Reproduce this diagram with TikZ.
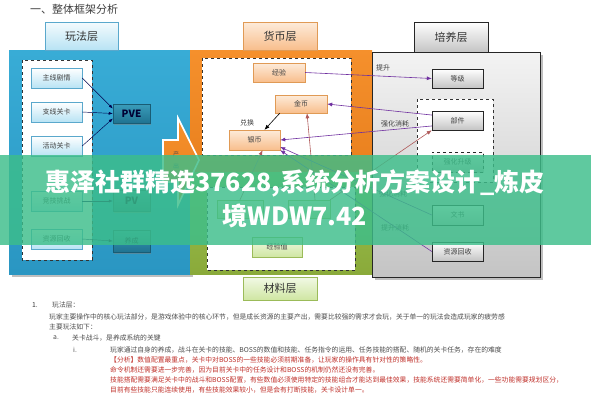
\documentclass[tikz,border=0pt]{standalone}
\usepackage{fontspec}
\setmainfont{Noto Sans CJK SC}
\usetikzlibrary{shadows,arrows.meta}
\newcommand\fsz[1]{\fontsize{#1}{#1}\selectfont}
\definecolor{blueT}{HTML}{38ACD6}
\definecolor{blueB}{HTML}{2A96C2}
\definecolor{orT}{HTML}{F5902C}
\definecolor{orB}{HTML}{E9801E}
\definecolor{grT}{HTML}{9CC04E}
\definecolor{grB}{HTML}{8AAA3A}
\definecolor{gyT}{HTML}{F3F3F3}
\definecolor{gyB}{HTML}{C4C4C4}
\definecolor{bbord}{HTML}{5AA8CC}
\definecolor{bfill}{HTML}{B8E3F4}
\definecolor{pveT}{HTML}{3A9CBA}
\definecolor{pveB}{HTML}{1F7391}
\definecolor{obord}{HTML}{E09A55}
\definecolor{ofillT}{HTML}{FDEBDA}
\definecolor{ofillB}{HTML}{F8BE8C}
\definecolor{gbord}{HTML}{9BBB59}
\definecolor{gfillT}{HTML}{F2F9E6}
\definecolor{gfillB}{HTML}{CFE6A2}
\definecolor{purp}{HTML}{7030A0}
\definecolor{redb}{HTML}{B05A5A}
\definecolor{wm}{HTML}{3CBE8A}
\definecolor{txtred}{HTML}{C0302A}
\begin{document}
\begin{tikzpicture}[x=1pt,y=-1pt,
  tabbox/.style={rectangle, inner sep=0, font=\fsz{11}, text=black!80},
  tabblue/.style={tabbox, draw=bbord, top color=white!85!bfill, bottom color=bfill},
  taborange/.style={tabbox, draw=obord, top color=ofillT, bottom color=ofillB},
  tabgray/.style={tabbox, draw=black!85, top color=white, bottom color=gyB},
  tabgreen/.style={tabbox, draw=gbord, top color=gfillT, bottom color=gfillB},
  bbox/.style={rectangle, inner sep=0, minimum width=51, minimum height=20, font=\fsz{7}, text=black!75,
     draw=bbord, top color=white, bottom color=bfill, drop shadow={shadow xshift=1.2pt, shadow yshift=-1.2pt, opacity=.35}},
  pbox/.style={rectangle, inner sep=0, minimum width=37, minimum height=19, font=\fsz{10}\bfseries, text=black!80!blue,
     draw=pveB!80!black, top color=pveT, bottom color=pveB, drop shadow={shadow xshift=1.2pt, shadow yshift=-1.5pt, opacity=.5}},
  obox/.style={rectangle, inner sep=0, minimum width=51, minimum height=19, font=\fsz{7}, text=black!75,
     draw=obord, top color=ofillT, bottom color=ofillB, drop shadow={shadow xshift=1.2pt, shadow yshift=-1.2pt, opacity=.35}},
  gbox/.style={rectangle, inner sep=0, minimum width=51, minimum height=19, font=\fsz{7}, text=black!75,
     draw=black!85, top color=white, bottom color=gyB, drop shadow={shadow xshift=1.2pt, shadow yshift=-1.2pt, opacity=.35}},
  grbox/.style={rectangle, inner sep=0, minimum width=46, minimum height=18, font=\fsz{7}, text=black!75,
     draw=gbord, top color=gfillT, bottom color=gfillB, drop shadow={shadow xshift=1.2pt, shadow yshift=-1.2pt, opacity=.35}},
  dashbox/.style={draw=black!80, dashed, line width=0.5pt, fill=white},
  lbl/.style={font=\fsz{7}, text=black!75, inner sep=0},
  conn/.style={draw=black!70!blue, line width=0.45pt, -{Latex[length=4pt,width=3pt]}},
  pconn/.style={draw=purp, line width=0.6pt, -{Latex[length=5pt,width=4pt]}},
  rconn/.style={draw=redb, line width=0.6pt, -{Latex[length=5pt,width=4pt]}},
  kconn/.style={draw=black, line width=0.6pt, -{Latex[length=5pt,width=4pt]}},
  body/.style={anchor=west, inner sep=0, font=\fsz{6.8}, text=black!70},
  bodyred/.style={body, text=txtred}
]
\useasboundingbox (0,0) rectangle (591,400);
\fill[white] (0,0) rectangle (591,400);

% title
\node[anchor=west, inner sep=0, font=\fsz{11}, text=black!75] (title) at (30,9) {一、整体框架分析};

% panels shadows
\fill[black!25] (12,53) rectangle (193,277);
\fill[black!25] (375,55) rectangle (543,280);
% blue panel
\shade[top color=blueT, bottom color=blueB] (9,50) rectangle (190,274);
% orange panel
\shade[top color=orT, bottom color=orB] (190,50) rectangle (372,172);
% green panel
\shade[top color=grT, bottom color=grB] (190,172) rectangle (372,274);
% gray panel
\shade[top color=gyT, bottom color=gyB, draw=black!85, line width=0.6pt] (372,52) rectangle (540,277);

% tabs
\node[tabblue, minimum width=73, minimum height=28] (tplay) at (81.5,36) {玩法层};
\node[taborange, minimum width=74, minimum height=28] (tcoin) at (280,36) {货币层};
\node[tabgray, minimum width=74, minimum height=30] (tgrow) at (451,37) {培养层};
\node[tabgreen, minimum width=74, minimum height=23] (tmat) at (280,288.5) {材料层};

% inner dashed areas
\draw[dashbox] (22,60) rectangle (92,260);
\draw[dashbox] (202,58) rectangle (351,155);
\draw[dashbox] (207,187) rectangle (355,270);
\draw[dashbox] (417,99) rectangle (493,182);

% block arrow
\shade[top color=orT, bottom color=orB, draw=white, line width=1.6pt, line join=miter]
  (163,140) -- (178,140) -- (178,118) -- (199,160) -- (178,205) -- (178,182) -- (163,182) -- cycle;
\node[inner sep=0, font=\fsz{6}, text=black!70, align=center] (chan) at (176,160) {产\\[6pt]出};

% blue boxes
\node[bbox] (b1) at (56.5,78) {主线剧情};
\node[bbox] (b2) at (56.5,112) {支线关卡};
\node[bbox] (b3) at (56.5,146) {活动关卡};
\node[bbox] (b4) at (56.5,201) {竞技挑战};
\node[bbox] (b5) at (56.5,239) {资源回收};
\node[pbox] (pve) at (131.5,113.5) {PVE};
\node[pbox, minimum height=21] (pvp) at (131.5,201) {PV};
\node[pbox, minimum height=22, font=\fsz{7}] (yc) at (131.5,241) {养成};

\draw[conn] (b1.east) -- (pve.165);
\draw[conn] (b2.east) -- (pve.west);
\draw[conn] (b3.east) -- (pve.195);
\draw[conn] (b4.east) -- (pvp.west);
\draw[conn] (b5.east) -- (yc.west);

% orange boxes
\node[obox, minimum width=52] (jy) at (279,72.5) {经验};
\node[obox, minimum width=52, minimum height=18] (jb) at (301,104) {金币};
\node[obox, minimum height=20] (yb) at (254.5,140) {银币};
\node[lbl] (dh) at (247,123) {兑换};

% gray boxes
\node[gbox] (dj) at (457.5,78.5) {等级};
\node[gbox] (bj) at (457.5,120.5) {部件};
\node[gbox, dashed, minimum height=20] (qh) at (457.5,162) {强化升级};
\node[gbox, minimum height=20] (ws) at (457.5,215) {文书};
\node[gbox] (zy) at (457.5,251.5) {资源回收};

% green boxes
\node[grbox] (ga) at (240,209) {};
\node[grbox, minimum width=42] (gb) at (309,209) {};
\node[grbox, minimum width=50, minimum height=20] (gc) at (277,247) {经验值};

% connectors
\draw[kconn] ([xshift=5]jb.south west) -- ([xshift=10]yb.north);
\draw[pconn] (jy.east) -- (dj.west);
\node[lbl] (lts) at (383,68) {提升};
\draw[pconn] (bj.168) -- (jb.east);
\draw[pconn] (bj.192) -- (yb.east);
\node[lbl] (lqh1) at (395,124) {强化消耗};
\draw[pconn] (ws.west) -- ([yshift=-7]yb.east);
\draw[pconn] (zy.west) -- (yb.south east);
\node[lbl] (lqh2) at (393,194) {强化消耗};
\node[lbl] (lts2) at (395,228) {提升消耗};
\draw[rconn] ([xshift=6]gb.north) -- ([xshift=6]jb.south);
\draw[rconn] (ga.north) -- ([xshift=8]yb.south);
\draw[rconn] (gb.north east) -- (bj.south west);

% body text
\node[body, text=black!80] (n1) at (32,305) {1.};
\node[body] (h1) at (52,305) {玩法层：};
\node[body] (t1) at (49,317) {玩家主要操作中的核心玩法部分，是游戏体验中的核心环节，但是成长资源的主要产出，需要比较强的需求才会玩，关于单一的玩法会造成玩家的疲劳感};
\node[body] (t2) at (49,327) {主要玩法如下：};
\node[body] (na) at (53,338) {a.};
\node[body] (ta) at (72,338) {关卡战斗，是养成系统的关键};
\node[body] (ni) at (73,350) {i.};
\node[body] (ti) at (110,350) {玩家通过自身的养成，战斗在关卡的技能、BOSS的数值和技能、任务指令的运用、任务技能的搭配、随机的关卡任务，存在的难度};
\node[bodyred] (r1) at (110,360) {【分析】数值配置最重点，关卡中对BOSS的一些技能必须前期准备，让玩家的操作具有针对性的策略性。};
\node[bodyred] (r2) at (110,370) {命令机制还需要进一步完善，因为目前关卡中的任务设计和BOSS的机制仍然还没有完善。};
\node[bodyred] (r3) at (110,380) {技能搭配需要满足关卡中的战斗和BOSS配置，有些数值必须使用特定的技能组合才能达到最佳效果，技能系统还需要简单化，一些功能需要规划区分，};
\node[bodyred] (r4) at (110,390) {目前有些技能只能连续使用，有些技能效果较小，但是会有打断技能，关卡设计单一。};

% watermark
\fill[wm, opacity=0.82] (0,155) rectangle (591,245);
\node[inner sep=0, font=\fsz{25}\bfseries, text=white] (wm1) at (295,183) {惠泽社群精选37628,系统分析方案设计\_炼皮};
\node[inner sep=0, font=\fsz{25}\bfseries, text=white] (wm2) at (295,216) {境WDW7.42};
\end{tikzpicture}
\end{document}
